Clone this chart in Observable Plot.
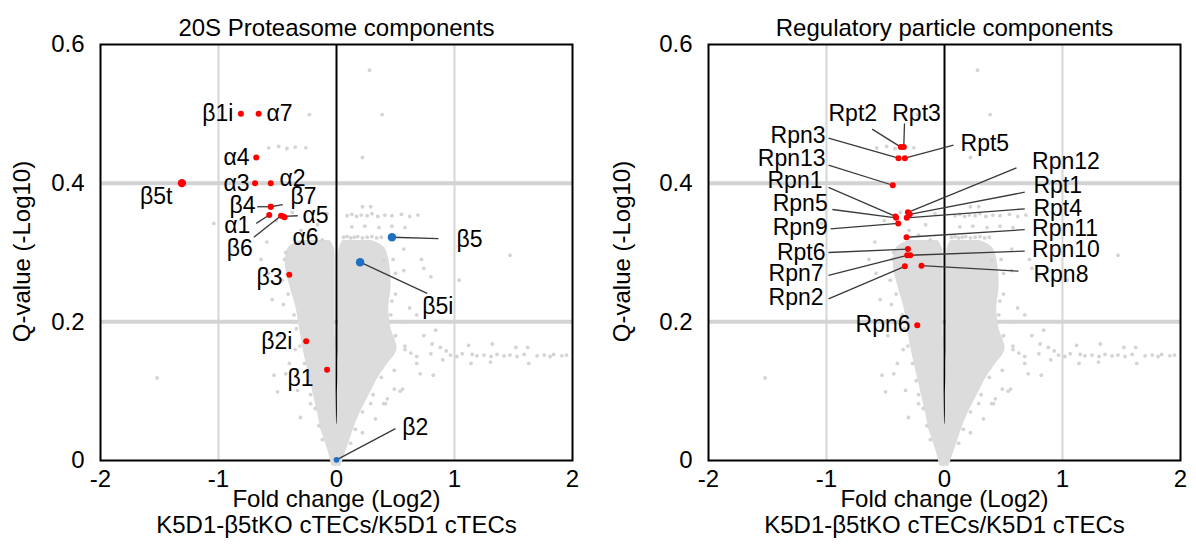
<!DOCTYPE html>
<html><head><meta charset="utf-8">
<script src="https://cdn.jsdelivr.net/npm/d3@7"></script>
<script src="https://cdn.jsdelivr.net/npm/@observablehq/plot@0.6"></script>
<style>
body{margin:0;background:#fff;font-family:"Liberation Sans",Arial,sans-serif;}
#wrap{display:flex;width:1196px;height:548px;overflow:hidden;}
svg{overflow:visible;}
</style></head><body><div id="wrap"></div>
<script>
// ---------- data ----------
const xTicks = [-2, -1, 0, 1, 2];
const yTicks = [0, 0.2, 0.4, 0.6];
const titles = ["20S Proteasome components", "Regulatory particle components"];
const xTitle1 = "Fold change (Log2)";
const xTitle2 = "K5D1-β5tKO cTECs/K5D1 cTECs";
const yTitle = "Q-value (-Log10)";

// 20S proteasome subunits
const names20S = ["β1i","α7","α4","α3","α2","β5t","β4","β7","α1","β6","α5","α6","β3","β2i","β1","β2","β5","β5i"];
const fc20S    = [-0.81,-0.66,-0.68,-0.69,-0.557,-1.31,-0.557,-0.557,-0.57,-0.47,-0.45,-0.44,-0.40,-0.257,-0.08,0.0,0.47,0.20];
const q20S     = [0.50,0.50,0.437,0.40,0.40,0.40,0.366,0.366,0.354,0.353,0.352,0.351,0.268,0.172,0.131,0.001,0.322,0.286];
const kind20S  = ["red","red","red","red","red","redBig","red","red","red","red","red","red","red","red","red","blueSmall","blue","blue"];

// Regulatory particle subunits
const namesRP = ["Rpt2","Rpt3","Rpn3","Rpt5","Rpn13","Rpn1","Rpn5","Rpn12","Rpt1","Rpt4","Rpn9","Rpn11","Rpt6","Rpn7","Rpn10","Rpn2","Rpn8","Rpn6"];
const fcRP    = [-0.37,-0.345,-0.39,-0.336,-0.438,-0.415,-0.41,-0.31,-0.295,-0.32,-0.392,-0.322,-0.31,-0.316,-0.29,-0.336,-0.195,-0.231];
const qRP     = [0.452,0.452,0.436,0.436,0.397,0.352,0.350,0.358,0.355,0.350,0.342,0.322,0.305,0.296,0.296,0.280,0.281,0.195];

// background proteome: dense core outline
const coreLeftQ  = [0.315,0.305,0.28,0.25,0.22,0.19,0.16,0.13,0.10,0.07,0.045];
const coreLeftX1 = [-0.30,-0.40,-0.42,-0.38,-0.33,-0.30,-0.27,-0.23,-0.19,-0.15,-0.12];
const coreLeftX2 = [-0.06,-0.03,-0.025,-0.025,-0.025,-0.025,-0.02,-0.02,-0.02,-0.015,-0.01];
const coreRightQ  = [0.315,0.305,0.28,0.25,0.22,0.19,0.16,0.14,0.12,0.10,0.07,0.045];
const coreRightX1 = [0.06,0.035,0.03,0.03,0.03,0.03,0.03,0.025,0.025,0.02,0.02,0.015];
const coreRightX2 = [0.30,0.40,0.44,0.45,0.43,0.45,0.50,0.42,0.34,0.28,0.19,0.13];
const coreBaseQ  = [0.05,0.035,0.02,0.005,-0.006];
const coreBaseX1 = [-0.13,-0.10,-0.07,-0.045,-0.03];
const coreBaseX2 = [0.14,0.11,0.08,0.05,0.03];

// background proteome: scattered proteins
const bgFc = [0.28,-0.23,0.387,0.22,-0.574,-0.49,-0.42,-0.35,-0.26,
  -1.04,-0.375,-0.08,-0.59,-0.51,-0.43,-0.58,-0.545,-0.45,-0.48,-0.35,-0.16,-0.22,-0.12,-0.64,-0.30,
  0.09,0.13,0.17,0.21,0.26,0.30,0.35,0.41,0.47,0.55,0.62,0.69,0.22,0.29,
  0.13,0.24,0.36,0.47,0.58,
  0.06,0.09,0.12,0.15,0.18,0.22,0.26,0.30,0.34,0.38,
  0.57,0.74,1.04,0.80,1.47,0.40,0.57,0.72,0.50,0.62,0.55,0.68,
  0.58,0.63,0.68,0.74,0.84,0.81,0.88,0.71,0.82,0.49,0.56,0.43,0.40,1.065,1.12,1.32,1.52,1.62,1.14,1.305,1.63,
  0.966,1.02,1.15,1.19,1.25,1.31,1.36,1.42,1.47,1.53,1.59,1.70,1.76,1.81,1.84,1.91,1.95,0.90,0.93,
  -1.52,-0.53,-0.43,-0.50,-0.33,-0.305,-0.22,-0.40,-0.37,
  0.49,0.54,0.415,0.29,0.68,0.80,0.33,0.22,
  -0.44,-0.46,-0.41,-0.36,-0.34,-0.31,-0.27,-0.24,-0.22,-0.18,-0.15,-0.12,
  0.48,0.50,0.47,0.46,0.50,0.58,0.38,0.31,0.22,0.16,0.12];
const bgQ = [0.563,0.499,0.499,0.437,0.451,0.453,0.450,0.452,0.451,
  0.342,0.358,0.356,0.315,0.346,0.30,0.27,0.232,0.225,0.18,0.16,0.34,0.325,0.318,0.29,0.332,
  0.353,0.355,0.352,0.354,0.353,0.356,0.352,0.354,0.353,0.355,0.352,0.354,0.366,0.366,
  0.337,0.338,0.336,0.338,0.336,
  0.322,0.323,0.321,0.322,0.323,0.321,0.322,0.323,0.321,0.322,
  0.274,0.277,0.26,0.265,0.296,0.288,0.305,0.29,0.24,0.22,0.20,0.21,
  0.16,0.155,0.15,0.18,0.188,0.168,0.163,0.125,0.123,0.103,0.103,0.089,0.082,0.154,0.166,0.168,0.163,0.163,0.14,0.142,0.14,
  0.152,0.150,0.153,0.151,0.152,0.150,0.153,0.151,0.152,0.150,0.153,0.151,0.152,0.150,0.153,0.151,0.152,0.145,0.158,
  0.119,0.123,0.125,0.099,0.101,0.062,0.082,0.14,0.20,
  0.13,0.10,0.082,0.082,0.14,0.154,0.06,0.04,
  0.29,0.26,0.24,0.21,0.19,0.165,0.14,0.115,0.095,0.075,0.05,0.03,
  0.29,0.27,0.23,0.21,0.18,0.165,0.12,0.095,0.07,0.045,0.025];

// ---------- layout (label placement) ----------
const layout20S = {
  "β1i":{lx:-0.873,ly:0.50,a:"end"}, "α7":{lx:-0.593,ly:0.50,a:"start"},
  "α4":{lx:-0.737,ly:0.437,a:"end"}, "α3":{lx:-0.737,ly:0.40,a:"end"},
  "α2":{lx:-0.483,ly:0.407,a:"start"}, "β5t":{lx:-1.39,ly:0.381,a:"end"},
  "β4":{lx:-0.686,ly:0.367,a:"end",sx:-0.672,sy:0.366}, "β7":{lx:-0.39,ly:0.38,a:"start",sx:-0.455,sy:0.369},
  "α1":{lx:-0.73,ly:0.339,a:"end",sx:-0.68,sy:0.342}, "β6":{lx:-0.71,ly:0.306,a:"end",sx:-0.70,sy:0.322},
  "α5":{lx:-0.288,ly:0.353,a:"start",sx:-0.328,sy:0.353}, "α6":{lx:-0.373,ly:0.322,a:"start"},
  "β3":{lx:-0.458,ly:0.264,a:"end"}, "β2i":{lx:-0.373,ly:0.172,a:"end"},
  "β1":{lx:-0.195,ly:0.118,a:"end"}, "β2":{lx:0.557,ly:0.048,a:"start",sx:0.50,sy:0.046},
  "β5":{lx:1.017,ly:0.319,a:"start",sx:0.864,sy:0.320}, "β5i":{lx:0.726,ly:0.222,a:"start",sx:0.768,sy:0.241}
};
const layoutRP = {
  "Rpt2":{lx:-0.983,ly:0.50,a:"start",sx:-0.613,sy:0.478}, "Rpt3":{lx:-0.443,ly:0.50,a:"start",sx:-0.339,sy:0.486},
  "Rpn3":{lx:-1.008,ly:0.469,a:"end",sx:-0.983,sy:0.465}, "Rpn13":{lx:-1.008,ly:0.436,a:"end",sx:-0.983,sy:0.426},
  "Rpt5":{lx:0.136,ly:0.457,a:"start",sx:0.076,sy:0.455}, "Rpn1":{lx:-1.034,ly:0.404,a:"end",sx:-0.983,sy:0.394},
  "Rpn5":{lx:-0.99,ly:0.371,a:"end",sx:-0.95,sy:0.362}, "Rpn9":{lx:-0.99,ly:0.336,a:"end",sx:-0.966,sy:0.334},
  "Rpt6":{lx:-1.008,ly:0.30,a:"end",sx:-0.983,sy:0.30}, "Rpn7":{lx:-1.025,ly:0.27,a:"end",sx:-0.983,sy:0.267},
  "Rpn2":{lx:-1.025,ly:0.235,a:"end",sx:-0.983,sy:0.233}, "Rpn6":{lx:-0.288,ly:0.196,a:"end"},
  "Rpn12":{lx:0.742,ly:0.431,a:"start",sx:0.61,sy:0.422}, "Rpt1":{lx:0.754,ly:0.396,a:"start",sx:0.68,sy:0.387},
  "Rpt4":{lx:0.754,ly:0.364,a:"start",sx:0.68,sy:0.363}, "Rpn11":{lx:0.742,ly:0.334,a:"start",sx:0.68,sy:0.333},
  "Rpn10":{lx:0.742,ly:0.304,a:"start",sx:0.68,sy:0.302}, "Rpn8":{lx:0.754,ly:0.268,a:"start",sx:0.627,sy:0.273}
};

// ---------- build tables ----------
const zipCore = (q, a, b) => q.map((v, i) => ({q: v, x1: a[i], x2: b[i]}));
const coreL = zipCore(coreLeftQ, coreLeftX1, coreLeftX2);
const coreR = zipCore(coreRightQ, coreRightX1, coreRightX2);
const coreB = zipCore(coreBaseQ, coreBaseX1, coreBaseX2);
const bg = bgFc.map((v, i) => ({fc: v, q: bgQ[i]}));
const pts20S = names20S.map((n, i) => ({name: n, fc: fc20S[i], q: q20S[i], kind: kind20S[i], ...layout20S[n]}));
const ptsRP = namesRP.map((n, i) => ({name: n, fc: fcRP[i], q: qRP[i], kind: "redMid", ...layoutRP[n]}));

const FONT = "Liberation Sans, Arial, Helvetica, sans-serif";
const RED = "#ff0000", BLUE = "#1f6fc0", CLOUD = "#dcdcdc";
const FS = 24, LFS = 23;

function panel(pts, title, width, ml, mr) {
  const rOf = {red: 2.9, redMid: 3.4, redBig: 5.6, blue: 5.8, blueSmall: 2.6};
  const fillOf = k => k.startsWith("blue") ? BLUE : RED;
  const leaders = pts.filter(d => d.sx !== undefined);
  const textMark = (anchor) => Plot.text(pts.filter(d => d.a === anchor), {
    x: "lx", y: "ly", text: "name", textAnchor: anchor, fontSize: LFS, fill: "black"});
  return Plot.plot({
    width, height: 548, marginTop: 44, marginBottom: 88, marginLeft: ml, marginRight: mr,
    x: {domain: [-2, 2]},
    y: {domain: [0, 0.6]},
    style: {fontFamily: FONT, fontSize: FS + "px", color: "black", background: "white", overflow: "visible"},
    marks: [
      Plot.ruleX([-1, 1], {stroke: "#d6d6d6", strokeWidth: 2}),
      Plot.ruleY([0.2, 0.4], {stroke: "#d3d3d3", strokeWidth: 4}),
      Plot.frame({stroke: "black", strokeWidth: 2}),
      Plot.ruleX([0], {y1: 0, y2: 0.6, stroke: "black", strokeWidth: 2}),
      Plot.areaX(coreL, {y: "q", x1: "x1", x2: "x2", fill: CLOUD, stroke: CLOUD, strokeWidth: 3, curve: "catmull-rom"}),
      Plot.areaX(coreR, {y: "q", x1: "x1", x2: "x2", fill: CLOUD, stroke: CLOUD, strokeWidth: 3, curve: "catmull-rom"}),
      Plot.areaX(coreB, {y: "q", x1: "x1", x2: "x2", fill: CLOUD, stroke: CLOUD, strokeWidth: 3, curve: "catmull-rom"}),
      Plot.dot(bg, {x: "fc", y: "q", r: 1.9, fill: "#d4d4d4"}),
      Plot.axisX({ticks: xTicks, tickSize: 0, tickPadding: 9, tickFormat: d => String(d), fontSize: FS, label: null}),
      Plot.axisY({ticks: yTicks, tickSize: 0, tickPadding: 16, tickFormat: d => String(d), fontSize: FS, label: null}),
      Plot.link(leaders, {x1: "sx", y1: "sy", x2: "fc", y2: "q", stroke: "#3a3a3a", strokeWidth: 1.3}),
      Plot.dot(pts, {x: "fc", y: "q", r: d => rOf[d.kind], fill: d => fillOf(d.kind), stroke: "none"}),
      textMark("start"), textMark("end"),
      Plot.text([title], {frameAnchor: "top", dy: -26, fontSize: FS, fill: "black"}),
      Plot.text([xTitle1], {frameAnchor: "bottom", dy: 46, fontSize: FS, fill: "black"}),
      Plot.text([xTitle2], {frameAnchor: "bottom", dy: 72, fontSize: FS, fill: "black"}),
      Plot.text([yTitle], {frameAnchor: "left", dx: -(ml - 22), dy: -1, rotate: -90, textAnchor: "middle", fontSize: FS, fill: "black"})
    ]
  });
}

const wrap = document.getElementById("wrap");
const p1 = panel(pts20S, titles[0], 600, 100, 28);
const p2 = panel(ptsRP, titles[1], 596, 108, 16);
p2.style.display = "block"; p1.style.display = "block";
wrap.append(p1, p2);
</script>
</body></html>
